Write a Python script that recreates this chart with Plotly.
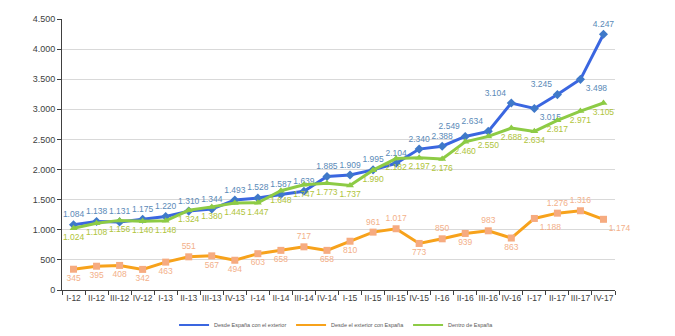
import plotly.graph_objects as go

categories = ["I-12","II-12","III-12","IV-12","I-13","II-13","III-13","IV-13",
              "I-14","II-14","III-14","IV-14","I-15","II-15","III-15","IV-15",
              "I-16","II-16","III-16","IV-16","I-17","II-17","III-17","IV-17"]

desde_espana = [1084, 1138, 1131, 1175, 1220, 1310, 1344, 1493, 1528, 1587, 1639, 1885,
                1909, 1995, 2104, 2340, 2388, 2549, 2634, 3104, 3015, 3245, 3498, 4247]
desde_exterior = [345, 395, 408, 342, 463, 551, 567, 494, 603, 658, 717, 658,
                  810, 961, 1017, 773, 850, 939, 983, 863, 1188, 1276, 1316, 1174]
dentro_espana = [1024, 1108, 1156, 1140, 1148, 1324, 1380, 1445, 1447, 1648, 1747, 1773,
                 1737, 1990, 2182, 2197, 2176, 2460, 2550, 2688, 2634, 2817, 2971, 3105]

names = ["Desde España con el exterior", "Desde el exterior con España", "Dentro de España"]
colors = ["#3A66E0", "#F7A21B", "#8DCB45"]

blue_pos = ["top center"] * 24
blue_pos[17] = "top left"
blue_pos[18] = "top left"
blue_pos[19] = "top left"
blue_pos[20] = "bottom right"
blue_pos[21] = "top left"
blue_pos[22] = "bottom right"

orange_pos = ["bottom center"] * 24
for i in [5, 10, 13, 14, 16, 18, 21, 22]:
    orange_pos[i] = "top center"
orange_pos[20] = "bottom right"
orange_pos[23] = "bottom right"

green_pos = ["bottom center"] * 24

def fmt(v):
    return f"{v:,}".replace(",", ".")

fig = go.Figure()
fig.add_trace(go.Scatter(
    x=categories, y=desde_espana, name=names[0], mode="lines+markers+text", showlegend=False,
    line=dict(color=colors[0], width=3),
    marker=dict(symbol="diamond", size=7, color="#3F79C9"),
    text=[fmt(v) for v in desde_espana], textposition=blue_pos, cliponaxis=False,
    textfont=dict(size=8.5, color="#5A8AB8", family="Liberation Sans")))
fig.add_trace(go.Scatter(
    x=categories, y=desde_exterior, name=names[1], mode="lines+markers+text", showlegend=False,
    line=dict(color=colors[1], width=3),
    marker=dict(symbol="square", size=7, color="#F6AB80"),
    text=[fmt(v) for v in desde_exterior], textposition=orange_pos, cliponaxis=False,
    textfont=dict(size=8.5, color="#F3B089", family="Liberation Sans")))
fig.add_trace(go.Scatter(
    x=categories, y=dentro_espana, name=names[2], mode="lines+markers+text", showlegend=False,
    line=dict(color=colors[2], width=3),
    marker=dict(symbol="triangle-up", size=7, color="#8DCB45"),
    text=[fmt(v) for v in dentro_espana], textposition=green_pos, cliponaxis=False,
    textfont=dict(size=8.5, color="#AFC43A", family="Liberation Sans")))

# legend entries (line samples only, as in the reference)
for nm, c in zip(names, colors):
    fig.add_trace(go.Scatter(x=[None], y=[None], mode="lines", name=nm,
                             line=dict(color=c, width=2), showlegend=True))

fig.update_layout(
    width=675, height=336,
    margin=dict(l=62, r=60, t=19, b=46),
    paper_bgcolor="white", plot_bgcolor="white",
    separators=",.",
    font=dict(family="Liberation Sans", size=9, color="#404040"),
    showlegend=True,
    legend=dict(orientation="h", x=0.52, xanchor="center", yref="container",
                y=0.033, yanchor="middle",
                font=dict(size=5.5, color="#595959"), entrywidth=72, entrywidthmode="pixels",
                itemwidth=30, bgcolor="rgba(0,0,0,0)"),
    xaxis=dict(type="category", showgrid=False, showline=True, linecolor="#404040",
               linewidth=1, ticks="outside", tickson="boundaries", ticklen=4,
               tickcolor="#404040", tickfont=dict(size=8.5, color="#404040"),
               tickangle=0, automargin=False, range=[-0.5, 23.5]),
    yaxis=dict(range=[0, 4500], dtick=500, tickformat=",d", showgrid=True,
               gridcolor="#D9D9D9", gridwidth=1, showline=True, linecolor="#404040",
               linewidth=1, ticks="outside", ticklen=4, tickcolor="#404040",
               tickfont=dict(size=9, color="#404040"), zeroline=False, automargin=False),
)

fig.write_html("out.html")
